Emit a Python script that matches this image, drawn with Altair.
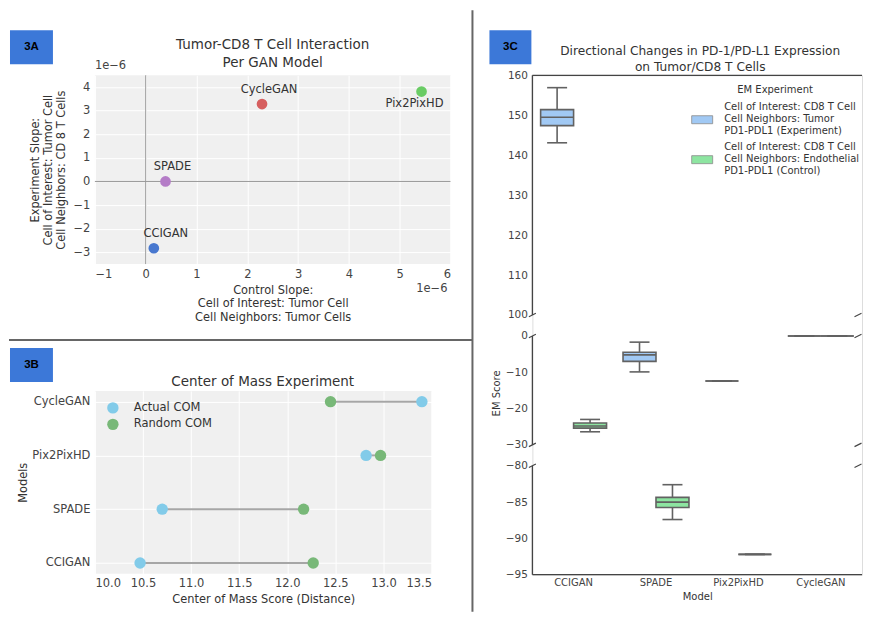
import json
import altair as alt
import pandas as pd

FONT = "DejaVu Sans"
TITLE_C = "#333333"
LABEL_C = "#444444"
PANEL_BG = "#f0f0f0"
TAG_BLUE = "#3c78d8"
EDGE = "#626262"

# ---------------- 3A : scatter of slopes (values in units of 1e-6)
a_models = ["CCIGAN", "SPADE", "Pix2PixHD", "CycleGAN"]
a_control_slope = [0.16, 0.39, 5.43, 2.29]
a_experiment_slope = [-2.83, 0.0, 3.81, 3.28]
a_palette = ["#4878CF", "#B47CC7", "#6ACC65", "#D65F5F"]
a_x_ticks = [-1, 0, 1, 2, 3, 4, 5, 6]
a_y_ticks = [-3, -2, -1, 0, 1, 2, 3, 4]
a_title = ["Tumor-CD8 T Cell Interaction", "Per GAN Model"]
a_x_title = ["Control Slope:", "Cell of Interest: Tumor Cell", "Cell Neighbors: Tumor Cells"]
a_y_title = ["Experiment Slope:", "Cell of Interest: Tumor Cell", "Cell Neighbors: CD 8 T Cells"]
a_exponent = "1e\u22126"

# ---------------- 3B : center of mass dumbbell
b_models = ["CycleGAN", "Pix2PixHD", "SPADE", "CCIGAN"]
b_actual_com = [13.4, 12.82, 10.7, 10.47]
b_random_com = [12.45, 12.97, 12.17, 12.27]
b_series = ["Actual COM", "Random COM"]
b_palette = ["#82cbe9", "#78b878"]
b_x_ticks = [10.0, 10.5, 11.0, 11.5, 12.0, 12.5, 13.0, 13.5]
b_title = ["Center of Mass Experiment"]

# ---------------- 3C : EM score boxes (broken axis)
c_models = ["CCIGAN", "SPADE", "Pix2PixHD", "CycleGAN"]
c_groups = ["Experiment", "Control"]
c_group_labels = [
    ["Cell of Interest: CD8 T Cell", "Cell Neighbors: Tumor", "PD1-PDL1 (Experiment)"],
    ["Cell of Interest: CD8 T Cell", "Cell Neighbors: Endothelial", "PD1-PDL1 (Control)"],
]
c_palette = ["#a1c9f4", "#8de5a1"]
c_exp_low = [143.1, -9.9, -12.4, 0.0]
c_exp_q1 = [147.4, -7.0, -12.4, 0.0]
c_exp_med = [149.5, -5.2, -12.4, 0.0]
c_exp_q3 = [151.4, -4.5, -12.4, 0.0]
c_exp_high = [156.9, -1.7, -12.4, 0.0]
c_ctl_low = [-26.4, -87.4, -92.2, 0.0]
c_ctl_q1 = [-25.4, -85.75, -92.2, 0.0]
c_ctl_med = [-24.8, -85.0, -92.2, 0.0]
c_ctl_q3 = [-24.0, -84.35, -92.2, 0.0]
c_ctl_high = [-23.0, -82.6, -92.2, 0.0]
c_y_ticks = [-95, -90, -85, -80, -30, -20, -10, 0, 100, 110, 120, 130, 140, 150, 160]
c_segments_lo = [-95, -30, 100]
c_segments_hi = [-80, 0, 160]
c_title = ["Directional Changes in PD-1/PD-L1 Expression", "on Tumor/CD8 T Cells"]
c_legend_title = "EM Experiment"

one = pd.DataFrame({"k": [0]})

C_W = 330


def tag(label, x1, x2, y1, y2):
    box = alt.Chart(one).mark_rect(color=TAG_BLUE).encode(
        x=alt.value(x1), x2=alt.value(x2), y=alt.value(y1), y2=alt.value(y2))
    txt = alt.Chart(one).mark_text(font="Liberation Sans", fontSize=11.5, fontWeight="bold",
                                   color="black").encode(
        x=alt.value((x1 + x2) / 2), y=alt.value((y1 + y2) / 2), text=alt.value(label))
    return [box, txt]


def heading(lines, cx, ys, size):
    out = []
    for line, yy in zip(lines, ys):
        out.append(alt.Chart(one).mark_text(font=FONT, fontSize=size, color=TITLE_C,
                                            align="center", baseline="middle").encode(
            x=alt.value(cx), y=alt.value(yy), text=alt.value(line)))
    return out


axis_common = dict(domain=False, ticks=False, grid=True, gridColor="white", gridWidth=1,
                   labelFont=FONT, labelFontSize=11.5, labelColor=LABEL_C,
                   titleFont=FONT, titleFontSize=11.4, titleColor=TITLE_C,
                   titleFontWeight="normal")

# ================= 3A
df_a = pd.DataFrame({"model": a_models, "control": a_control_slope,
                     "experiment": a_experiment_slope})
xa = alt.X("control:Q", scale=alt.Scale(domain=[-1, 6], nice=False, zero=False),
           axis=alt.Axis(values=a_x_ticks, format="d", title=a_x_title, labelPadding=4,
                         titlePadding=5, titleLineHeight=13.5, **axis_common))
ya = alt.Y("experiment:Q", scale=alt.Scale(domain=[-3.5, 4.5], nice=False, zero=False),
           axis=alt.Axis(values=a_y_ticks, format="d", title=a_y_title, labelPadding=5,
                         titlePadding=6, titleLineHeight=13.5, **axis_common))

vline = alt.Chart(pd.DataFrame({"control": [0]})).mark_rule(color="#999999", strokeWidth=1).encode(x=xa)
hline = alt.Chart(pd.DataFrame({"experiment": [0]})).mark_rule(color="#999999", strokeWidth=1).encode(y=ya)
pts_a = alt.Chart(df_a).mark_circle(size=115, opacity=1).encode(
    x=xa, y=ya,
    color=alt.Color("model:N", scale=alt.Scale(domain=a_models, range=a_palette), legend=None))


def alabel(names, dx, dy):
    return alt.Chart(df_a).transform_filter(
        alt.FieldOneOfPredicate(field="model", oneOf=names)
    ).mark_text(dx=dx, dy=dy, font=FONT, fontSize=11.5, color=TITLE_C).encode(
        x=xa, y=ya, text="model:N")


lab_a1 = alabel(["CycleGAN", "SPADE"], 7, -14)
lab_a2 = alabel(["CCIGAN"], 12, -14)
lab_a3 = alabel(["Pix2PixHD"], -7, 12)

exp_tl = alt.Chart(one).mark_text(font=FONT, fontSize=11.5, color=LABEL_C, align="left").encode(
    x=alt.value(0), y=alt.value(-9), text=alt.value(a_exponent))
exp_br = alt.Chart(one).mark_text(font=FONT, fontSize=11.5, color=LABEL_C, align="right").encode(
    x=alt.value(353), y=alt.value(214), text=alt.value(a_exponent))
sep_h = alt.Chart(one).mark_rule(color="#666666", strokeWidth=2).encode(
    x=alt.value(-86), x2=alt.value(378), y=alt.value(265))

chart_a = alt.layer(
    vline, hline, pts_a, lab_a1, lab_a2, lab_a3, exp_tl, exp_br, sep_h,
    *tag("3A", -85, -42, -45, -11),
    *heading(a_title, 178, [-30, -12], 13.5)
).properties(
    width=356, height=189,
    view=alt.ViewBackground(fill=PANEL_BG, stroke=None),
)

# ================= 3B
df_b = pd.DataFrame({"model": b_models, "actual": b_actual_com, "random": b_random_com})
df_b_long = pd.DataFrame({
    "model": b_models + b_models,
    "series": [b_series[0]] * len(b_models) + [b_series[1]] * len(b_models),
    "value": b_actual_com + b_random_com,
})
xb_scale = alt.Scale(domain=[10, 13.5], nice=False, zero=False)
xb_axis = alt.Axis(values=b_x_ticks, format=".1f", title="Center of Mass Score (Distance)",
                   labelPadding=4, titlePadding=4, **axis_common)


def xb(field):
    return alt.X(field, scale=xb_scale, axis=xb_axis)


yb = alt.Y("model:N", scale=alt.Scale(type="point", domain=b_models, padding=0.2),
           axis=alt.Axis(title="Models", labelPadding=5, titlePadding=3, **axis_common))

lines_b = alt.Chart(df_b).mark_rule(color="#a6a6a6", strokeWidth=2).encode(
    y=yb, x=xb("actual:Q"), x2="random:Q")
dots_b = alt.Chart(df_b_long).mark_circle(size=130, opacity=1).encode(
    y=yb, x=xb("value:Q"),
    color=alt.Color("series:N", scale=alt.Scale(domain=b_series, range=b_palette),
                    legend=alt.Legend(title=None, orient="none", legendX=12, legendY=11,
                                      symbolType="circle", symbolSize=130,
                                      symbolStrokeWidth=0, labelFont=FONT,
                                      labelFontSize=11.5, labelColor=TITLE_C,
                                      labelOffset=15, rowPadding=4.5, padding=0)))

chart_b = alt.layer(
    lines_b, dots_b, *tag("3B", -85, -42, -43, -9),
    *heading(b_title, 168, [-9], 13.5)
).properties(
    width=337, height=183,
    view=alt.ViewBackground(fill=PANEL_BG, stroke=None),
)

# ================= 3C
rows = []
for i, m in enumerate(c_models):
    rows.append(dict(model=m, group=c_groups[0], lo=c_exp_low[i], q1=c_exp_q1[i],
                     med=c_exp_med[i], q3=c_exp_q3[i], hi=c_exp_high[i]))
    rows.append(dict(model=m, group=c_groups[1], lo=c_ctl_low[i], q1=c_ctl_q1[i],
                     med=c_ctl_med[i], q3=c_ctl_q3[i], hi=c_ctl_high[i]))
df_c = pd.DataFrame(rows)

yc_scale = alt.Scale(domain=[-95, -80, -30, 0, 100, 160],
                     range=[500, 391, 370, 261, 240, 0], nice=False, zero=False)
yc_axis = alt.Axis(values=c_y_ticks, format="d", title="EM Score", grid=False, domain=False,
                   ticks=False, labelFont=FONT, labelFontSize=10.5, labelColor=LABEL_C,
                   labelPadding=5, titleFont=FONT, titleFontSize=10, titleColor=TITLE_C,
                   titleFontWeight="normal", titleX=-36, titleY=318, titleBaseline="middle",
                   titleAlign="center")


def yc(field):
    return alt.Y(field, scale=yc_scale, axis=yc_axis)


xc = alt.X("model:N", scale=alt.Scale(domain=c_models, paddingInner=0.2, paddingOuter=0.1),
           axis=alt.Axis(title="Model", labelAngle=0, domain=False, ticks=False, grid=False,
                         labelFont=FONT, labelFontSize=10, labelColor=LABEL_C, labelPadding=3,
                         titleFont=FONT, titleFontSize=10, titleColor=TITLE_C,
                         titleFontWeight="normal", titlePadding=4))
xoff = alt.XOffset("group:N", scale=alt.Scale(domain=c_groups, paddingInner=0, paddingOuter=0))

label_expr = ("datum.label == '" + c_groups[0] + "' ? " + json.dumps(c_group_labels[0]) +
              " : " + json.dumps(c_group_labels[1]))

boxes = alt.Chart(df_c).mark_rect(stroke=EDGE, strokeWidth=1.6).encode(
    x=xc, xOffset=xoff, y=yc("q1:Q"), y2="q3:Q",
    color=alt.Color("group:N", scale=alt.Scale(domain=c_groups, range=c_palette),
                    legend=alt.Legend(title=c_legend_title, orient="none", legendX=159,
                                      legendY=10, titleAnchor="middle", titleFont=FONT,
                                      titleFontSize=10, titleFontWeight="normal",
                                      titleColor=TITLE_C, titlePadding=1,
                                      labelFont=FONT, labelFontSize=10, labelColor=TITLE_C,
                                      labelExpr=label_expr, labelLimit=300,
                                      symbolType="M-1,0.81H1V1.57H-1Z", symbolSize=441,
                                      symbolStrokeColor="#8a8a8a", symbolStrokeWidth=0.8,
                                      labelOffset=11, rowPadding=-2, padding=0)))
medians = alt.Chart(df_c).mark_rect(stroke=EDGE, strokeWidth=1.6, fillOpacity=0).encode(
    x=xc, xOffset=xoff, y=yc("med:Q"), y2="med:Q")
whisk_hi = alt.Chart(df_c).mark_rule(color=EDGE, strokeWidth=1.6).encode(
    x=xc, xOffset=xoff, y=yc("q3:Q"), y2="hi:Q")
whisk_lo = alt.Chart(df_c).mark_rule(color=EDGE, strokeWidth=1.6).encode(
    x=xc, xOffset=xoff, y=yc("lo:Q"), y2="q1:Q")
cap_hi = alt.Chart(df_c).mark_tick(orient="horizontal", size=20, thickness=1.6, color=EDGE,
                                   opacity=1).encode(x=xc, xOffset=xoff, y=yc("hi:Q"))
cap_lo = alt.Chart(df_c).mark_tick(orient="horizontal", size=20, thickness=1.6, color=EDGE,
                                   opacity=1).encode(x=xc, xOffset=xoff, y=yc("lo:Q"))

df_seg = pd.DataFrame({"lo": c_segments_lo, "hi": c_segments_hi})
spine_l = alt.Chart(df_seg).mark_rule(color="#444444", strokeWidth=1.3).encode(
    x=alt.value(0), y=yc("lo:Q"), y2="hi:Q")
df_h = pd.DataFrame({"v": [c_segments_hi[-1], c_segments_lo[0]]})
spine_h = alt.Chart(df_h).mark_rule(color="#444444", strokeWidth=1.3).encode(y=yc("v:Q"))
df_brk = pd.DataFrame({"v": c_segments_hi[:-1] + c_segments_lo[1:]})
brk_l = alt.Chart(df_brk).mark_point(shape="M-1,0.5L1,-0.5", size=49, filled=False,
                                     stroke="#444444", strokeWidth=1.2, opacity=1).encode(
    x=alt.value(0), y=yc("v:Q"))
brk_r = alt.Chart(df_brk).mark_point(shape="M-1,0.5L1,-0.5", size=49, filled=False,
                                     stroke="#444444", strokeWidth=1.2, opacity=1).encode(
    x=alt.value(C_W - 4), y=yc("v:Q"))
sep_v = alt.Chart(one).mark_rule(color="#666666", strokeWidth=2).encode(
    x=alt.value(-60), y=alt.value(-65), y2=alt.value(537))

chart_c = alt.layer(
    spine_l, spine_h, brk_l, brk_r, whisk_hi, whisk_lo, cap_hi, cap_lo, boxes, medians,
    sep_v, *tag("3C", -43, -1, -45, -11),
    *heading(c_title, C_W / 2 + 3, [-24, -8], 12.2)
).properties(width=C_W, height=500)

left = alt.vconcat(chart_a, chart_b, spacing=127, bounds="flush").resolve_scale(color="independent")
chart = alt.hconcat(left, chart_c, spacing=438, bounds="flush").resolve_scale(
    color="independent"
).properties(padding=0, background="white").configure_view(stroke=None).configure(font=FONT)

chart.save("out.html", embed_options={"renderer": "svg", "actions": False})
